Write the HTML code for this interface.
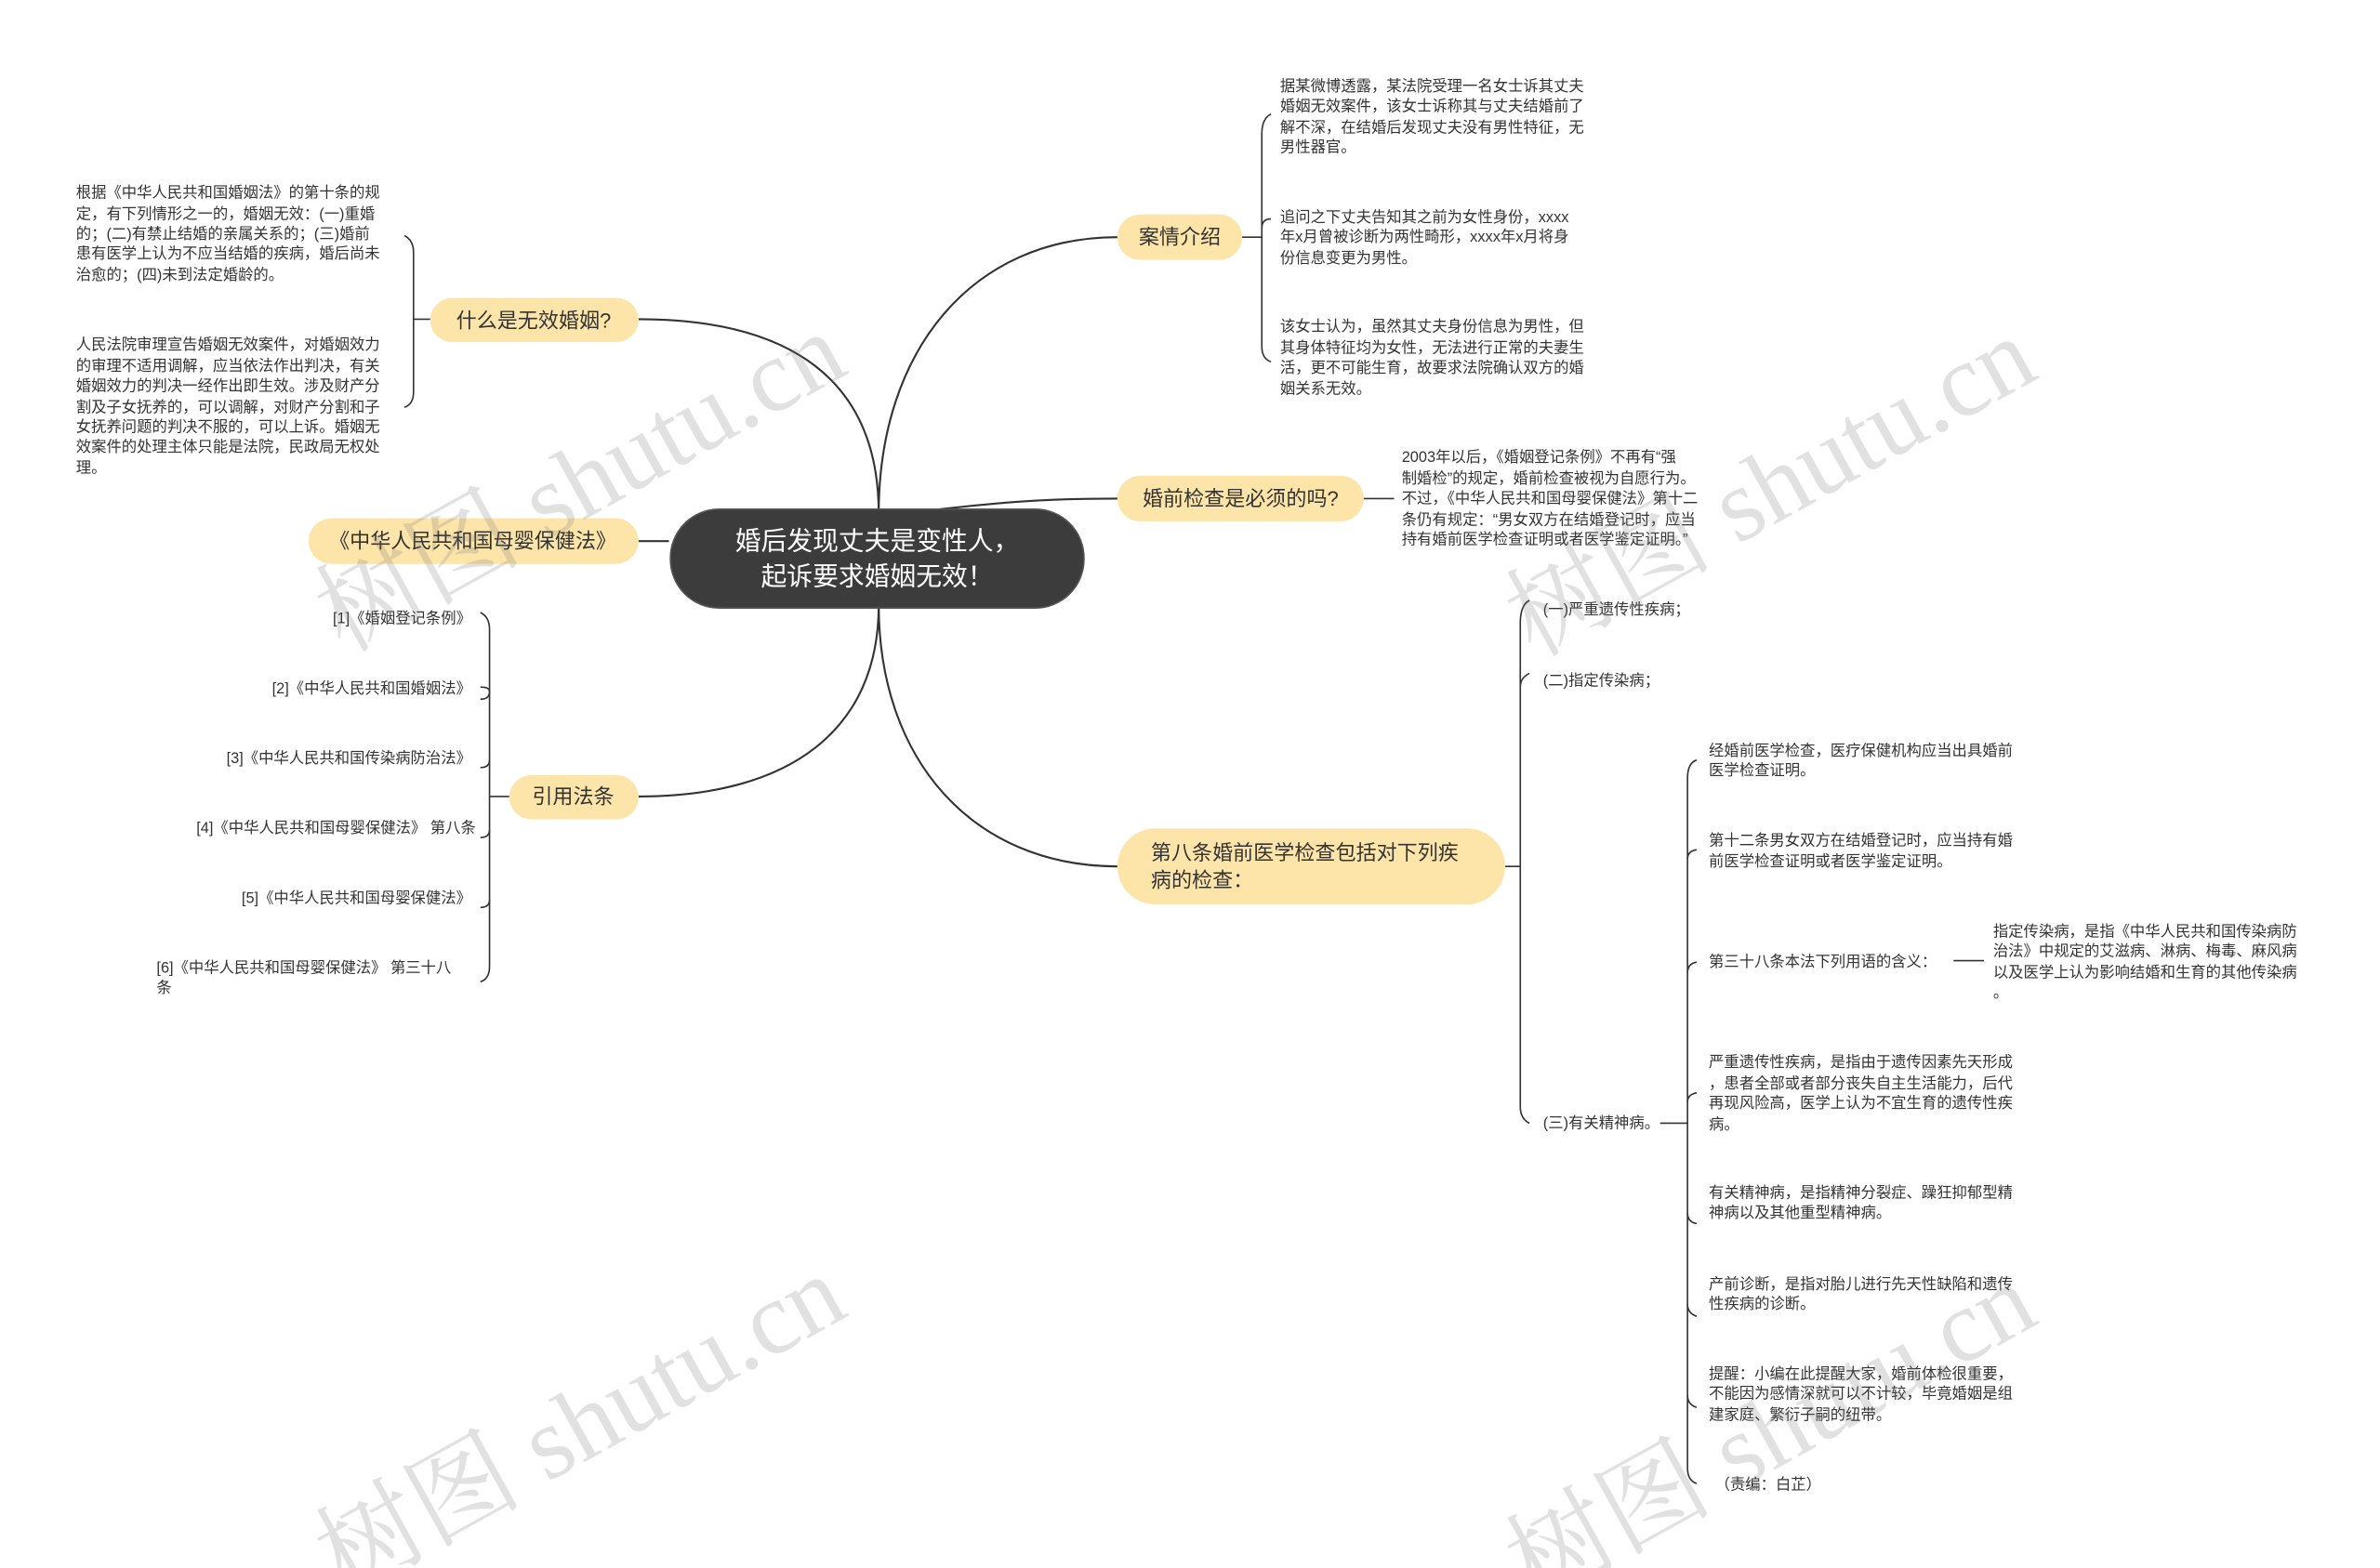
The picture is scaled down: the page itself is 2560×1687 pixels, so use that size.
<!DOCTYPE html>
<html><head><meta charset="utf-8"><style>
html,body{margin:0;padding:0;background:#fff;}
svg{display:block;}
text{font-family:"Liberation Sans","Noto Sans CJK SC",sans-serif;fill:#333;dominant-baseline:central;}
.s{font-size:10px;}
.p{font-size:13.5px;fill:#333;}
</style></head><body>
<svg width="2560" height="1687" viewBox="0 0 1565.5 1031.6" xmlns="http://www.w3.org/2000/svg">
<g fill="none" stroke="#333" stroke-width="1.3">
<path d="M578,338 C578,250 520,210 420,210"/>
<path d="M578,338 C578,230 640,156 735,156"/>
<path d="M610,336 C660,330 690,328 735,328"/>
<path d="M440,356 L420,356"/>
<path d="M578,398 C578,480 520,524 420,524"/>
<path d="M578,398 C578,500 640,570 735,570"/>
</g>
<g fill="none" stroke="#333" stroke-width="1">
<path d="M283,210 L272,210"/>
<path d="M266,155 Q272,158 272,166 L272,258 Q272,266 266,268"/>
<path d="M335,524 L322,524"/>
<path d="M316,403 Q322,406 322,414 L322,636 Q322,644 316,646"/>
<path d="M322,455 Q322,460 316,460"/><path d="M322,455 Q322,452 316,452"/>
<path d="M322,500 Q322,505 316,505"/><path d="M322,546 Q322,551 316,551"/><path d="M322,592 Q322,597 316,597"/>
<path d="M817,156 L830,156"/>
<path d="M836,75 Q830,78 830,88 L830,228 Q830,236 836,238"/>
<path d="M830,150 Q830,144 836,144"/>
<path d="M897,328 L917,328"/>
<path d="M990,570 L1000,570"/>
<path d="M1006,395 Q1000,398 1000,410 L1000,728 Q1000,736 1006,739"/>
<path d="M1000,452 Q1000,446 1006,443"/>
<path d="M1092,739 L1110,739"/>
<path d="M1116,500 Q1110,502 1110,512 L1110,966 Q1110,974 1116,976"/>
<path d="M1110,565 Q1110,560 1116,559"/>
<path d="M1110,640 Q1110,634 1116,633"/>
<path d="M1110,725 Q1110,720 1116,719"/>
<path d="M1110,798 Q1110,804 1116,805"/>
<path d="M1110,858 Q1110,864 1116,866"/>
<path d="M1110,918 Q1110,924 1116,926"/>
<path d="M1285,632 L1305,632"/>
</g>
<rect x="441" y="335" width="272" height="65" rx="32" fill="#3c3c3c" stroke="#555" stroke-width="1"/>
<text x="577" y="356" text-anchor="middle" style="font-size:17px;fill:#fff">婚后发现丈夫是变性人，</text>
<text x="577" y="379" text-anchor="middle" style="font-size:17px;fill:#fff">起诉要求婚姻无效！</text>
<g fill="#fde5aa">
<rect x="283" y="196" width="137" height="29" rx="14.5"/>
<rect x="203" y="341" width="217" height="30" rx="15"/>
<rect x="335" y="510" width="85" height="29" rx="14.5"/>
<rect x="735" y="141" width="82" height="30" rx="15"/>
<rect x="735" y="313" width="162" height="30" rx="15"/>
<rect x="735" y="545" width="255" height="50" rx="25"/>
</g>
<text class="p" x="351" y="211" text-anchor="middle">什么是无效婚姻?</text>
<text class="p" x="311" y="356" text-anchor="middle">《中华人民共和国母婴保健法》</text>
<text class="p" x="377" y="524" text-anchor="middle">引用法条</text>
<text class="p" x="776" y="156" text-anchor="middle">案情介绍</text>
<text class="p" x="816" y="328" text-anchor="middle">婚前检查是必须的吗?</text>
<text class="p" x="757" y="561">第八条婚前医学检查包括对下列疾</text>
<text class="p" x="757" y="579">病的检查：</text>
<g class="s">
<text x="50" y="127">根据《中华人民共和国婚姻法》的第十条的规</text>
<text x="50" y="141">定，有下列情形之一的，婚姻无效：(一)重婚</text>
<text x="50" y="154">的；(二)有禁止结婚的亲属关系的；(三)婚前</text>
<text x="50" y="167">患有医学上认为不应当结婚的疾病，婚后尚未</text>
<text x="50" y="181">治愈的；(四)未到法定婚龄的。</text>
<text x="50" y="227">人民法院审理宣告婚姻无效案件，对婚姻效力</text>
<text x="50" y="241">的审理不适用调解，应当依法作出判决，有关</text>
<text x="50" y="254">婚姻效力的判决一经作出即生效。涉及财产分</text>
<text x="50" y="268">割及子女抚养的，可以调解，对财产分割和子</text>
<text x="50" y="281">女抚养问题的判决不服的，可以上诉。婚姻无</text>
<text x="50" y="294">效案件的处理主体只能是法院，民政局无权处</text>
<text x="50" y="308">理。</text>
<text x="310" y="407" text-anchor="end">[1]《婚姻登记条例》</text>
<text x="310" y="453" text-anchor="end">[2]《中华人民共和国婚姻法》</text>
<text x="310" y="499" text-anchor="end">[3]《中华人民共和国传染病防治法》</text>
<text x="313" y="545" text-anchor="end">[4]《中华人民共和国母婴保健法》 第八条</text>
<text x="310" y="591" text-anchor="end">[5]《中华人民共和国母婴保健法》</text>
<text x="103" y="637">[6]《中华人民共和国母婴保健法》 第三十八</text>
<text x="103" y="650">条</text>
<text x="842" y="57">据某微博透露，某法院受理一名女士诉其丈夫</text>
<text x="842" y="70">婚姻无效案件，该女士诉称其与丈夫结婚前了</text>
<text x="842" y="84">解不深，在结婚后发现丈夫没有男性特征，无</text>
<text x="842" y="97">男性器官。</text>
<text x="842" y="143">追问之下丈夫告知其之前为女性身份，xxxx</text>
<text x="842" y="156">年x月曾被诊断为两性畸形，xxxx年x月将身</text>
<text x="842" y="170">份信息变更为男性。</text>
<text x="842" y="215">该女士认为，虽然其丈夫身份信息为男性，但</text>
<text x="842" y="229">其身体特征均为女性，无法进行正常的夫妻生</text>
<text x="842" y="242">活，更不可能生育，故要求法院确认双方的婚</text>
<text x="842" y="256">姻关系无效。</text>
<text x="922" y="301">2003年以后，《婚姻登记条例》不再有“强</text>
<text x="922" y="315">制婚检”的规定，婚前检查被视为自愿行为。</text>
<text x="922" y="328">不过，《中华人民共和国母婴保健法》第十二</text>
<text x="922" y="342">条仍有规定：“男女双方在结婚登记时，应当</text>
<text x="922" y="355">持有婚前医学检查证明或者医学鉴定证明。”</text>
<text x="1015" y="401">(一)严重遗传性疾病；</text>
<text x="1015" y="448">(二)指定传染病；</text>
<text x="1015" y="739">(三)有关精神病。</text>
<text x="1124" y="494">经婚前医学检查，医疗保健机构应当出具婚前</text>
<text x="1124" y="507">医学检查证明。</text>
<text x="1124" y="553">第十二条男女双方在结婚登记时，应当持有婚</text>
<text x="1124" y="567">前医学检查证明或者医学鉴定证明。</text>
<text x="1124" y="633">第三十八条本法下列用语的含义：</text>
<text x="1311" y="613">指定传染病，是指《中华人民共和国传染病防</text>
<text x="1311" y="626">治法》中规定的艾滋病、淋病、梅毒、麻风病</text>
<text x="1311" y="640">以及医学上认为影响结婚和生育的其他传染病</text>
<text x="1311" y="653">。</text>
<text x="1124" y="699">严重遗传性疾病，是指由于遗传因素先天形成</text>
<text x="1124" y="713">，患者全部或者部分丧失自主生活能力，后代</text>
<text x="1124" y="726">再现风险高，医学上认为不宜生育的遗传性疾</text>
<text x="1124" y="740">病。</text>
<text x="1124" y="785">有关精神病，是指精神分裂症、躁狂抑郁型精</text>
<text x="1124" y="798">神病以及其他重型精神病。</text>
<text x="1124" y="845">产前诊断，是指对胎儿进行先天性缺陷和遗传</text>
<text x="1124" y="858">性疾病的诊断。</text>
<text x="1124" y="904">提醒：小编在此提醒大家，婚前体检很重要，</text>
<text x="1124" y="917">不能因为感情深就可以不计较，毕竟婚姻是组</text>
<text x="1124" y="931">建家庭、繁衍子嗣的纽带。</text>
<text x="1128" y="977">（责编：白芷）</text>
</g>
<g opacity="0.22">
<text transform="translate(215,410) rotate(-29)" style="fill:#777;font-size:68px;font-family:'Liberation Serif','Noto Serif CJK SC',serif">树图 shutu.cn</text>
<text transform="translate(998,413) rotate(-29)" style="fill:#777;font-size:68px;font-family:'Liberation Serif','Noto Serif CJK SC',serif">树图 shutu.cn</text>
<text transform="translate(215,1030) rotate(-29)" style="fill:#777;font-size:68px;font-family:'Liberation Serif','Noto Serif CJK SC',serif">树图 shutu.cn</text>
<text transform="translate(998,1035) rotate(-29)" style="fill:#777;font-size:68px;font-family:'Liberation Serif','Noto Serif CJK SC',serif">树图 shutu.cn</text>
</g>
</svg>
</body></html>
